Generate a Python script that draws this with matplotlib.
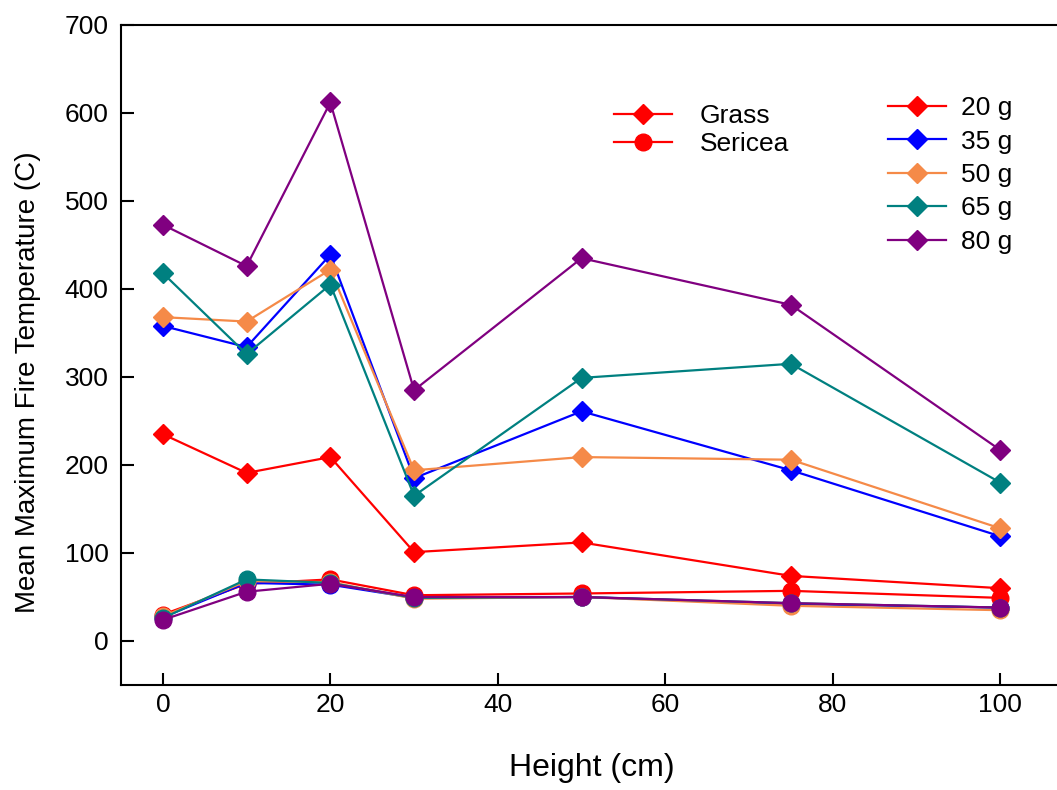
#!/usr/bin/env python3

import matplotlib
matplotlib.use("Agg")
import matplotlib.pyplot as plt
from matplotlib.lines import Line2D

plt.rcParams['font.family'] = ['Liberation Sans', 'DejaVu Sans']

heights = [0, 10, 20, 30, 50, 75, 100]
loads = ["20 g", "35 g", "50 g", "65 g", "80 g"]
colors = ["#ff0000", "#0000ff", "#f58a48", "#008080", "#800080"]

# grass (diamonds)
grass_20 = [235, 191, 209, 101, 112, 74, 60]
grass_35 = [358, 334, 439, 185, 261, 194, 119]
grass_50 = [368, 363, 422, 194, 209, 206, 128]
grass_65 = [418, 326, 405, 165, 299, 315, 180]
grass_80 = [473, 426, 612, 285, 435, 382, 217]

# sericea (circles)
ser_20 = [30, 65, 70, 52, 54, 57, 49]
ser_35 = [27, 66, 64, 49, 50, 42, 38]
ser_50 = [28, 68, 67, 48, 50, 40, 35]
ser_65 = [26, 70, 66, 49, 50, 43, 38]
ser_80 = [24, 56, 65, 50, 50, 43, 38]

grass = [grass_20, grass_35, grass_50, grass_65, grass_80]
sericea = [ser_20, ser_35, ser_50, ser_65, ser_80]

fig = plt.figure(figsize=(10.57, 7.9), dpi=100)
ax = fig.add_axes([121/1057, 1 - 685/790, 963/1057, 660/790])

LW = 1.6
for vals, c in zip(sericea, colors):
    ax.plot(heights, vals, color=c, lw=LW, marker='o', ms=12, mec=c)
for vals, c in zip(grass, colors):
    ax.plot(heights, vals, color=c, lw=LW, marker='D', ms=10, mec=c)

ax.set_xlim(-5, 110)
ax.set_ylim(-50, 700)
ax.set_xticks([0, 20, 40, 60, 80, 100])
ax.set_yticks(range(0, 701, 100))
ax.tick_params(direction='in', length=9, width=1.5, labelsize=19)
ax.tick_params(axis='x', pad=6)
ax.tick_params(axis='y', pad=9)
for s in ax.spines.values():
    s.set_linewidth(1.5)

fig.text(0.560, 0.028, "Height (cm)", fontsize=23, ha='center', va='center')
fig.text(0.0265, 0.516, "Mean Maximum Fire Temperature (C)", fontsize=20,
         rotation=90, ha='center', va='center')

h1 = [Line2D([], [], color='red', lw=LW, marker='D', ms=10),
      Line2D([], [], color='red', lw=LW, marker='o', ms=12)]
leg1 = ax.legend(h1, ["Grass", "Sericea"], loc='upper left',
                 bbox_to_anchor=(614/1057, 1 - 104/790),
                 bbox_transform=fig.transFigure, frameon=False, fontsize=19,
                 handlelength=2.2, handletextpad=1.06, labelspacing=0.15,
                 borderpad=0, borderaxespad=0)
ax.add_artist(leg1)

h2 = [Line2D([], [], color=c, lw=LW, marker='D', ms=10) for c in colors]
ax.legend(h2, loads, loc='upper left',
          bbox_to_anchor=(888/1057, 1 - 96/790),
          bbox_transform=fig.transFigure, frameon=False, fontsize=19,
          handlelength=2.2, handletextpad=0.57, labelspacing=0.36,
          borderpad=0, borderaxespad=0)

fig.savefig("out.png", dpi=100)
